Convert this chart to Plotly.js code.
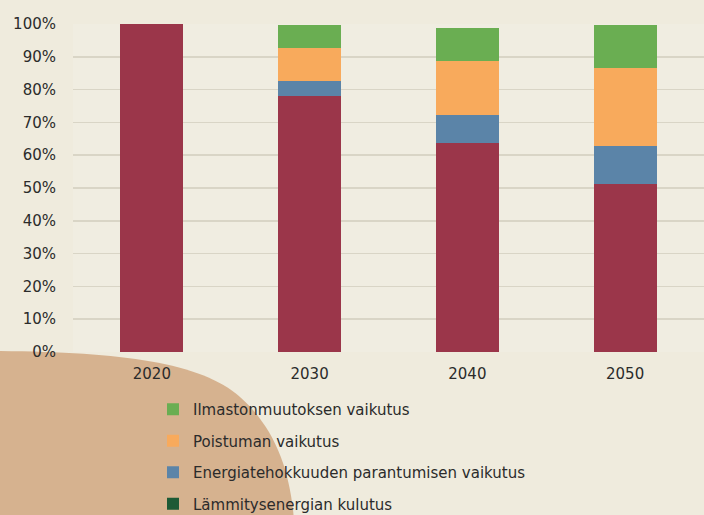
<!DOCTYPE html>
<html>
<head>
<meta charset="utf-8">
<script src="https://cdn.plot.ly/plotly-3.0.1.min.js"></script>
<style>html,body{margin:0;padding:0;background:#efebdd;}#chart{width:704px;height:515px;}</style>
</head>
<body>
<div id="chart"></div>
<script>
const years = ['2020', '2030', '2040', '2050'];
const heatingUse = [100, 78.0, 63.6, 51.2];
const efficiencyEffect = [0, 4.6, 8.6, 11.7];
const removalEffect = [0, 10.1, 16.6, 23.6];
const climateEffect = [0, 7.0, 10.0, 13.2];
const names = {
  heat: 'Lämmitysenergian kulutus',
  eff: 'Energiatehokkuuden parantumisen vaikutus',
  rem: 'Poistuman vaikutus',
  clim: 'Ilmastonmuutoksen vaikutus'
};

const W = 704, H = 515, L = 73, R = 0, T = 24, B = 163;
const pw = W - L - R, ph = H - T - B;
const px = x => ((x - L) / pw).toFixed(4);
const py = y => ((H - B - y) / ph).toFixed(4);
const blob = `M ${px(-5)} ${py(351)} C ${px(120)} ${py(352)} ${px(200)} ${py(362)} ${px(240)} ${py(397)} C ${px(275)} ${py(428)} ${px(290)} ${py(470)} ${px(294)} ${py(520)} L ${px(-5)} ${py(520)} Z`;

const traces = [
  {type: 'bar', x: years, y: years.map(() => null), name: names.heat, legendgroup: 'a', legendrank: 4, marker: {color: '#1d5a35'}, hoverinfo: 'skip'},
  {type: 'bar', x: years, y: heatingUse, name: names.heat, legendgroup: 'b', legendrank: 5, showlegend: false, marker: {color: '#9b364a'}},
  {type: 'bar', x: years, y: efficiencyEffect, name: names.eff, legendgroup: 'c', legendrank: 3, marker: {color: '#5b84a8'}},
  {type: 'bar', x: years, y: removalEffect, name: names.rem, legendgroup: 'd', legendrank: 2, marker: {color: '#f8aa5c'}},
  {type: 'bar', x: years, y: climateEffect, name: names.clim, legendgroup: 'e', legendrank: 1, marker: {color: '#6aae52'}}
];

const layout = {
  width: W, height: H,
  margin: {l: L, r: R, t: T, b: B, pad: 0, autoexpand: false},
  paper_bgcolor: '#efebdd',
  plot_bgcolor: '#f0ede1',
  barmode: 'stack',
  bargap: 0.6,
  font: {family: 'DejaVu Sans, Arial, sans-serif', size: 15, color: '#2b2b2b'},
  xaxis: {
    type: 'category', showgrid: false, zeroline: false, showline: false,
    ticks: 'outside', ticklen: 8, tickcolor: 'rgba(0,0,0,0)',
    tickfont: {size: 15, color: '#2b2b2b'}
  },
  yaxis: {
    range: [0, 100], dtick: 10, ticksuffix: '%',
    showgrid: true, gridcolor: '#d9d5c6', gridwidth: 1.5, zeroline: false, showline: false,
    ticks: 'outside', ticklen: 13, tickcolor: 'rgba(0,0,0,0)',
    tickfont: {size: 15, color: '#2b2b2b'}
  },
  legend: {
    orientation: 'v', x: px(153), y: py(393), xanchor: 'left', yanchor: 'top',
    traceorder: 'grouped', tracegroupgap: 9, maxheight: 300,
    bgcolor: 'rgba(0,0,0,0)', font: {size: 15, color: '#2b2b2b'}
  },
  shapes: [
    {type: 'path', xref: 'paper', yref: 'paper', path: blob, fillcolor: '#d6b28f', line: {width: 0}, layer: 'below'}
  ],
  showlegend: true
};

Plotly.newPlot('chart', traces, layout, {displayModeBar: false, staticPlot: true});
</script>
</body>
</html>
